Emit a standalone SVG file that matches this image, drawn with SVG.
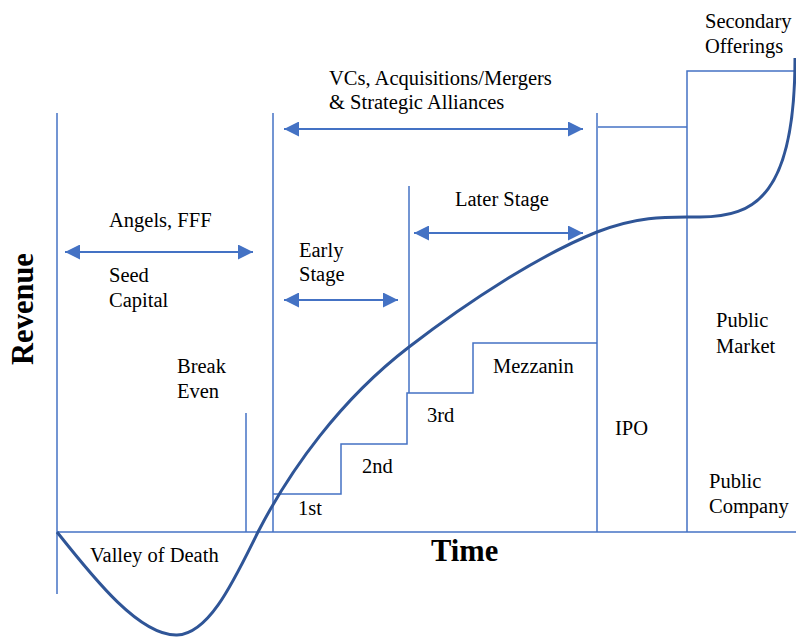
<svg xmlns="http://www.w3.org/2000/svg" width="796" height="637" viewBox="0 0 796 637">
<style>
.ln{stroke:#4472C4;stroke-width:1.5;fill:none}
.ar{stroke:#4472C4;stroke-width:2;fill:none;marker-start:url(#ah);marker-end:url(#ah)}
.cv{stroke:#2F5597;stroke-width:3;fill:none}
.t{font-family:'Liberation Serif','Times New Roman',serif;font-size:20.5px;fill:#000}
.big{font-size:30.5px;font-weight:bold}
</style>
<defs>
<marker id="ah" viewBox="0 0 10 10" refX="10" refY="5" markerWidth="7.5" markerHeight="7.5" markerUnits="strokeWidth" orient="auto-start-reverse">
<path d="M0,0 L10,5 L0,10 Z" fill="#4472C4"/>
</marker>
</defs>
<rect width="796" height="637" fill="#fff"/>
<g id="frame">
<line class="ln" x1="57" y1="532" x2="796" y2="532"/>
<line class="ln" x1="57" y1="113" x2="57" y2="594"/>
<line class="ln" x1="273" y1="113" x2="273" y2="532"/>
<line class="ln" x1="246" y1="413" x2="246" y2="532"/>
<line class="ln" x1="409" y1="186" x2="409" y2="393"/>
<line class="ln" x1="597" y1="113" x2="597" y2="532"/>
<line class="ln" x1="598" y1="127" x2="687" y2="127"/>
<polyline class="ln" points="687,532 687,71 795,71"/>
<polyline class="ln" points="273,494 341,494 341,444 407,444 407,393 473,393 473,343 597,343"/>
</g>
<g id="connectors">
<line class="ar" x1="65" y1="252" x2="253" y2="252"/>
<line class="ar" x1="284" y1="129" x2="583" y2="129"/>
<line class="ar" x1="284" y1="300" x2="398" y2="300"/>
<line class="ar" x1="414" y1="233" x2="583" y2="233"/>
</g>
<g id="curve">
<path class="cv" d="M57,532 C95,580 140,636 177,635 C210,634 235,578 258,532 C290,470 340,400 409,347 C470,300 540,255 597,232 C640,215 670,217 700,217 C755,217 795,195 795,58"/>
</g>
<g id="labels" class="t" font-family="Liberation Serif, Times New Roman, serif">
<text x="109" y="227">Angels, FFF</text>
<text x="109" y="282">Seed</text>
<text x="109" y="307">Capital</text>
<text x="329" y="85">VCs, Acquisitions/Mergers</text>
<text x="329" y="109">&amp; Strategic Alliances</text>
<text x="299" y="257">Early</text>
<text x="299" y="281">Stage</text>
<text x="455" y="206">Later Stage</text>
<text x="705" y="28">Secondary</text>
<text x="705" y="53">Offerings</text>
<text x="177" y="373">Break</text>
<text x="177" y="398">Even</text>
<text x="298" y="515">1st</text>
<text x="362" y="473">2nd</text>
<text x="427" y="422">3rd</text>
<text x="493" y="373">Mezzanin</text>
<text x="615" y="435">IPO</text>
<text x="716" y="327">Public</text>
<text x="716" y="353">Market</text>
<text x="709" y="488">Public</text>
<text x="709" y="513">Company</text>
<text x="90" y="562">Valley of Death</text>
<text class="big" x="431" y="561">Time</text>
<text class="big" transform="translate(33,309) rotate(-90)" text-anchor="middle">Revenue</text>
</g>
</svg>
